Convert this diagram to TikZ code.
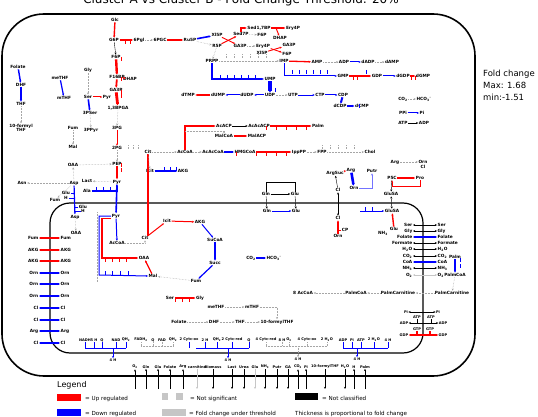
\documentclass[tikz,border=0pt]{standalone}
\usepackage{fontspec}
\setmainfont{DejaVu Sans}
\usetikzlibrary{arrows.meta}

\tikzset{
  met/.style={font=\fontsize{4.3}{4.6}\selectfont\bfseries,inner sep=0.5pt},
  cof/.style={font=\fontsize{3.6}{3.8}\selectfont\bfseries,inner sep=0.3pt},
  upreg/.style={draw=red,line width=1.2pt},
  dnreg/.style={draw=blue,line width=1.2pt},
  nsig/.style={draw=gray!70,densely dotted,line width=0.5pt},
  nclass/.style={draw=black,line width=0.4pt},
  lowfc/.style={draw=gray!45,line width=0.9pt},
  lgtext/.style={anchor=base west,font=\fontsize{5.6}{6.5}\selectfont,inner sep=0pt},
}

\begin{document}
\begin{tikzpicture}[x=1pt,y=-1pt,>={Stealth[length=2.2pt,width=2pt]}]
\useasboundingbox (0,0) rectangle (538,417);

% title and range
\node[anchor=base,font=\fontsize{12}{14}\selectfont,inner sep=0pt] (title) at (241,4) {Cluster A vs Cluster B - Fold Change Threshold: 20\%};
\node[anchor=north west,align=left,font=\fontsize{8.5}{12}\selectfont,inner sep=0pt] (range) at (483,70) {Fold change\\Max: 1.68\\min:-1.51};

% cell and mitochondrion
\draw[line width=1.6pt,rounded corners=42pt] (2,14) rectangle (475,376);
\draw[line width=1.2pt,rounded corners=20pt] (50,203) rectangle (423,353);

% cytosol
\foreach \n/\x/\y/\t in {glc/115/20/Glc, g6p/114/40/G6P, pgl/139/40/6Pgl, pgc/160/40/6PGC, ru5p/190/40/Ru5P,
  xu5p/217/35/Xl5P, r5p/217/46/R5P, s7p/241/34/Sed7P, gapa/240/46/GA3P, s17bp/259/28/{Sed1,7BP},
  e4pa/293/28/Ery4P, dhapa/280/38/DHAP, f6pa/262/35/F6P, e4pb/263/46/Ery4P, xu5pb/262/53/Xl5P,
  gapb/289/45/GA3P, f6pb/287/54/F6P,
  f6p/116/57/F6P, f16bp/117/77/F16BP, dhap/130/79/DHAP, gap/116/90/GA3P, bpg/118/108/{1,3BPGA},
  pgthree/117/128/3PG, pgtwo/117/148/2PG, pep/117/164/PEP, pyr/117/182/Pyr,
  folate/18/67/Folate, dhf/21/85/DHF, thf/21/104/THF, methf/60/78/meTHF, mthf/64/98/mTHF,
  gly/88/70/Gly, ser/88/97/Ser, pyrb/107/97/Pyr, pser/90/113/3PSer, ppyr/91/130/3PPyr,
  fum/73/128/Fum, mal/73/147/Mal,
  prpp/212/61/PRPP, imp/284/61/IMP, amp/317/62/AMP, adp/344/62/ADP, dadp/368/62/dADP, damp/392/62/dAMP,
  gmp/343/76/GMP, gdp/377/76/GDP, dgdp/403/76/dGDP, dgmp/423/76/dGMP, ump/270/79/UMP,
  dtmp/188/95/dTMP, dump/218/95/dUMP, dudp/247/95/dUDP, udp/270/95/UDP, utp/293/95/UTP,
  ctp/320/95/CTP, cdp/343/95/CDP, dcdp/340/106/dCDP, dcmp/362/106/dCMP,
  co2a/403/99/CO\textsubscript{2}, hco3a/424/99/HCO\textsubscript{3}\textsuperscript{-}, ppi/403/113/PPi,
  pia/422/113/Pi, atpa/403/123/ATP, adpa/424/123/ADP,
  acacp/224/126/AcACP, acacacp/259/126/AcAcACP, palm/318/126/Palm, malcoa/224/136/MalCoA, malacp/257/136/MalACP,
  cit/148/152/Cit, accoa/185/152/AcCoA, acaccoa/213/152/AcAcCoA, hmgcoa/245/152/HMGCoA,
  ipp/299/152/IppPP, fpp/322/152/FPP, chol/370/152/Chol, icit/150/171/Icit, akg/183/171/AKG,
  oaa/73/165/OAA, asn/22/183/Asn, asp/74/183/Asp, lact/87/181/Lact, ala/87/191/Ala,
  gluca/66/193/Glu, hca/66/198/H, fumc/55/200/Fum,
  glnc/266/194/Gln, gluc/295/194/Glu, argsuc/335/173/ArgSuc, arg/351/170/Arg, orn/354/188/Orn,
  putr/372/171/Putr, clc/338/190/Cl, argb/395/162/Arg, ornb/423/162/Orn, clb/423/167/Cl,
  pfivec/392/178/P5C, pro/420/178/Pro, glusa/391/194/GluSA,
  palmc/455/257/Palm, palmcoa/455/275/PalmCoA, pcarc/452/293/PalmCarnitine}
  \node[met] (\n) at (\x,\y) {\t};
\node[met,align=center] (fthf) at (21,128) {10-formyl\\THF};

% mitochondrion
\foreach \n/\x/\y/\t in {glum/83/207/Glu, hm/83/211/H, aspm/75/217/Asp, oaam/76/233/OAA,
  pyrm/116/216/Pyr, accoam/117/243/AcCoA, citm/145/238/Cit, oaamb/144/258/OAA, malm/153/276/Mal,
  icitm/167/221/Icit, akgm/200/222/AKG, sucoa/215/240/SuCoA, succ/215/263/Succ, fumm/196/281/Fum,
  glnm/267/211/Gln, glumb/296/211/Glu, co2m/251/258/CO\textsubscript{2}, hco3m/274/258/HCO\textsubscript{3}\textsuperscript{-},
  clm/338/218/Cl, cp/345/230/CP, ornm/338/236/Orn, glusam/392/211/GluSA, glumc/394/229/Glu,
  nhm/383/233/NH\textsubscript{3},
  acceight/303/293/8 AcCoA, palmcoam/356/293/PalmCoA, pcarm/398/293/PalmCarnitine,
  serm/170/298/Ser, glym/200/298/Gly, methfm/216/307/meTHF, mthfm/252/307/mTHF,
  folm/179/322/Folate, dhfm/214/322/DHF, thfm/240/322/THF, fthfm/277/322/10-formylTHF}
  \node[met] (\n) at (\x,\y) {\t};

% up regulated
\foreach \a/\b/\w in {glc/g6p/1.4, g6p/pgl/1.8, pgc/ru5p/1.3, f6p/f16bp/2.4, f16bp/gap/1.8, f16bp/dhap/1.0,
  gap/bpg/2.8, pgthree/pgtwo/0.9, pep/pyr/1.6, xu5p/gapa/0.9, r5p/s7p/0.9, s17bp/e4pa/1.6,
  e4pb/f6pb/0.9, xu5pb/gapb/0.9, imp/amp/1.3, gmp/gdp/1.3, dgdp/dgmp/1.8, dump/dtmp/1.2,
  acacacp/palm/2.2, malcoa/malacp/1.8, hmgcoa/ipp/2.4, ser/pyrb/1.0, citm/icitm/1.0, icitm/akgm/1.0,
  malm/oaamb/1.2, argsuc/arg/1.0, serm/glym/2.2, pfivec/pro/1.2, glumc/glusam/1.4}
  \draw[upreg,->,line width=\w pt] (\a) -- (\b);
\draw[upreg,->,line width=1.6pt] (s7p.north) |- (s17bp.west);
\draw[upreg,->,line width=1.0pt] (276,28) -- (dhapa);
\draw[upreg,->,line width=2.4pt] (accoa.north) |- (acacp.west);
\draw[upreg,line width=2.4pt] (cit.south) -- (cit.south |- citm.north);
\draw[upreg,->,line width=1.4pt] (pyrm.south west) -| (102,258) -- (oaamb.west);
\draw[upreg,->,line width=1.0pt] (pro.south) |- (392,186) -- (pfivec.south);
\draw[upreg,->,line width=1.2pt] (ornm) -- (clm);
\draw[upreg,line width=1.0pt] (cp.west) -- (cp.west -| ornm.north);
\foreach \x/\y in {125/40,130/40,121/57,121/77,121/90,121/94,121/163,121/168,266/126,276/126,286/126,296/126,306/126,
  236/152,256/152,266/152,276/152,286/152,105/258,112/258,119/258,126/258,353/76,357/76,411/76,415/76,175/298,182/298,189/298}
  \draw[upreg,line width=0.8pt] (\x,\y) -- ++(0,4);

% down regulated
\foreach \a/\b/\w in {ru5p/xu5p/1.6, folate/dhf/1.4, dhf/thf/1.4, methf/mthf/1.2, ser/pser/1.6, adp/dadp/1.0,
  gdp/dgdp/1.0, ump/udp/3.2, udp/dudp/1.0, dudp/dump/1.0, utp/ctp/0.8, ctp/cdp/1.0, cdp/dcdp/2.0,
  dcdp/dcmp/2.6, ppi/pia/1.0, acaccoa/hmgcoa/1.4, icit/akg/1.2, pyr/pyrm/1.6, asp/aspm/1.2,
  pyrm/accoam/1.0, akgm/sucoa/1.0, sucoa/succ/1.6, succ/fumm/1.2, glnm/glumb/1.0, co2m/hco3m/1.2,
  arg/orn/2.6, palmc/palmcoa/1.8}
  \draw[dnreg,->,line width=\w pt] (\a) -- (\b);
\draw[dnreg,->,line width=1.2pt] (prpp.south) |- (ump.west);
\draw[dnreg,->,line width=1.0pt] (imp.south) |- (gmp.west);
\draw[dnreg,->,line width=1.4pt] (ala.east) -| (pyr.south);
\draw[dnreg,->,line width=1.0pt] (pyrm.west) -| (99,275) -- (malm.west);
\draw[blue!55,->,line width=0.8pt] (orn.east) -| (putr.south);
\coordinate (oatin) at (360,211);
\draw[dnreg,->,line width=1.0pt] (oatin) -- (glusam);
\foreach \n in {gluca,hca,glum,hm} \draw[dnreg,line width=0.8pt] (\n) -- (asp.center |- \n);
\foreach \x/\y in {220/75,227/75,234/75,241/75,248/75,255/75,292/70,299/70,306/70,313/70,320/70,327/70,
  96/187,103/187,110/187,105/271,112/271,120/271,128/271,164/167,170/167,176/167,
  275/88,359/104,366/70,460/258,460/264,365/207,372/207}
  \draw[dnreg,line width=0.8pt] (\x,\y) -- ++(0,4);

% not significant / not classified
\foreach \a/\b in {pgl/pgc, ru5p/r5p, bpg/pgthree, pgtwo/pep, s7p/f6pa, gapa/e4pb, prpp/imp, amp/adp,
  dadp/damp, udp/utp, co2a/hco3a, accoa/acaccoa, ipp/fpp, fpp/chol, cit/accoa, cit/icit, oaa/pep,
  asp/oaa, asp/asn, pyr/lact, gly/ser, pser/ppyr, thf/fthf, fum/mal, r5p/prpp, asp/fumc,
  fumm/malm, palmcoa/pcarc, pcarc/pcarm, pcarm/palmcoam, palmcoam/acceight, methfm/mthfm,
  folm/dhfm, dhfm/thfm, thfm/fthfm, argb/ornb, aspm/oaam}
  \draw[nsig,->] (\a) -- (\b);
\draw[nsig,->] (accoam.east) -| (citm.south);
\draw[nsig,->] (mthfm.east) -| (fthfm.north);
\draw[nsig,->] (accoa.north |- 0,131) -| (malcoa.north);
\draw[nsig] (97,212) -- (97,282);
\foreach \a/\b in {g6p/f6p, acacp/acacacp, atpa/adpa, glnc/gluc, pfivec/glusa, glnc/glnm, gluc/glumb, clc/argsuc}
  \draw[nclass,->] (\a) -- (\b);
\draw[nclass] (glnc.north) -- (glnc.north |- 0,182) -- (gluc.north |- 0,182) -- (gluc.north);
\draw[nclass,<->] (clc) -- (clm);
\draw[nclass,<->] (glusa) -- (glusam);
\foreach \x/\y in {226/58,234/58,242/58,250/58,258/58,266/58,128/149,133/149,138/149,322/149,330/149,338/149,346/149,354/149}
  \draw[nsig] (\x,\y) -- ++(0,-4);

% transport, left
\foreach \y/\l/\s in {238/Fum/upreg, 250/AKG/upreg, 261/AKG/upreg, 273/Orn/dnreg, 284/Orn/dnreg, 296/Orn/dnreg,
  308/Cl/dnreg, 320/Cl/dnreg, 331/Arg/dnreg, 343/Cl/dnreg} {
  \node[met,anchor=east] (lt\y) at (39,\y) {\l};
  \node[met,anchor=west] (rt\y) at (60,\y) {\l};
  \draw[\s,<->] (lt\y) -- (rt\y);
}
% transport, right
\foreach \y/\l/\s in {225/Ser/nclass, 231/Gly/nclass, 237/Folate/dnreg, 243/Formate/nclass, 249/H\textsubscript{2}O/nclass,
  256/CO\textsubscript{2}/nclass, 262/CoA/dnreg, 268/NH\textsubscript{3}/nclass, 275/O\textsubscript{2}/lowfc} {
  \node[met,anchor=east] (tl\y) at (413,\y) {\l};
  \node[met,anchor=west] (tr\y) at (437,\y) {\l};
  \draw[\s,<->] (tl\y) -- (tr\y);
}
\foreach \n/\x/\y/\t in {pil/406/312/Pi, pir/438/312/Pi, atpl/417/317/ATP, atpr/431/317/ATP, adpl/404/323/ADP,
  adpr/443/323/ADP, gtpl/417/329/GTP, gtpr/430/329/GTP, gdpl/404/335/GDP, gdpr/443/335/GDP}
  \node[cof] (\n) at (\x,\y) {\t};
\draw[nclass,<->] (pil) -- (pir);
\draw[nclass,<->] (adpl) -- (adpr);
\draw[upreg,<->,line width=2.2pt] (gdpl) -- (gdpr);
\foreach \n in {gtpl,gtpr} \draw[upreg,line width=1.4pt] (\n.south) -- (\n.south |- gdpl.center);
\foreach \n in {atpl,atpr} \draw[nclass] (\n.south) -- (\n.south |- adpl.center);

% electron transport chain
\foreach \n/\x/\t in {nadh/85/NADH, fiveh/94/5 H, qa/102/Q, nad/116/NAD, qha/126/QH\textsubscript{2},
  fadh/141/FADH\textsubscript{2}, qb/153/Q, fad/162/FAD, qhb/173/QH\textsubscript{2},
  cytox/189/2 Cytc-ox, twoh/205/2 H, qhc/217/QH\textsubscript{2}, cytred/232/2 Cytc-red, qc/249/Q,
  cytredb/266/4 Cytc-red, eighth/282/8 H, otwo/289/O\textsubscript{2}, cytoxb/307/4 Cytc-ox,
  htwoo/327/2 H\textsubscript{2}O, adpe/343/ADP, pie/352/Pi, atpe/361/ATP, htwoob/374/2 H\textsubscript{2}O, fourh/388/4 H}
  \node[cof] (\n) at (\x,340) {\t};
\foreach \n/\x/\y in {hfa/113/360, hfb/228/360, hfc/298/359, hfd/357/359}
  \node[cof] (\n) at (\x,\y) {4 H};
\coordinate (cI) at (113,348);
\coordinate (cIII) at (228,348);
\coordinate (cIV) at (298,346);
\coordinate (cV) at (357,348);
\foreach \n in {nadh,fiveh,qa,nad,qha} \draw[dnreg,line width=0.9pt] (\n.south) -- (\n.south |- cI);
\draw[dnreg,line width=0.9pt] (nadh.south |- cI) -- (qha.south |- cI);
\draw[dnreg,->,line width=0.9pt] (cI) -- (hfa);
\foreach \n in {cytox,twoh,qhc,cytred,qc} \draw[dnreg,line width=0.9pt] (\n.south) -- (\n.south |- cIII);
\draw[dnreg,line width=0.9pt] (196,348) -- (qc.south |- cIII);
\draw[dnreg,->,line width=0.9pt] (cIII) -- (hfb);
\foreach \n in {adpe,pie,atpe,htwoob,fourh} \draw[dnreg,line width=0.9pt] (\n.south) -- (\n.south |- cV);
\draw[dnreg,line width=0.9pt] (adpe.south |- cV) -- (fourh.south |- cV);
\draw[dnreg,->,line width=0.9pt] (cV) -- (hfd);
\foreach \n in {fadh,qb,fad,qhb} \draw[nsig] (\n.south) -- (\n.south |- 0,346);
\draw[nsig] (fadh.south |- 0,346) -- (qhb.south |- 0,346);
\foreach \n in {cytredb,eighth,otwo,cytoxb,htwoo} \draw[nsig] (\n.south) -- (\n.south |- cIV);
\draw[nsig] (cytredb.south |- cIV) -- (htwoo.south |- cIV);
\draw[nsig,->] (cIV) -- (hfc);

% exchange with the medium
\foreach \x/\t/\s [count=\i] in {135/O\textsubscript{2}/nclass, 146/Gln/nclass, 158/Glu/nclass, 170/Folate/nclass,
  183/Arg/nclass, 298/CO\textsubscript{2}/nclass, 306/Pi/nclass, 354/H/nclass, 365/Palm/nclass} {
  \node[cof] (exin\i) at (\x,367) {\t};
  \coordinate (eyin\i) at (\x,389);
  \draw[\s,->] (eyin\i) -- (exin\i);
}
\foreach \x/\t/\s [count=\i] in {197/carnitine/lowfc, 213/Biomass/nclass, 232/Last/nclass, 244/Urea/nclass,
  255/Glu/lowfc, 265/NH\textsubscript{3}/nclass, 277/Putr/nclass, 288/GA/nclass, 325/10-formylTHF/nclass,
  345/H\textsubscript{2}O/nclass} {
  \node[cof] (exout\i) at (\x,367) {\t};
  \coordinate (eyout\i) at (\x,389);
  \draw[\s,->] (exout\i) -- (eyout\i);
}

% legend
\node[anchor=base west,font=\fontsize{8}{9}\selectfont,inner sep=0pt] (legend) at (57,387) {Legend};
\fill[red] (57,394) rectangle (81,401);
\node[lgtext] (lgup) at (85,400) {= Up regulated};
\fill[blue] (57,409) rectangle (81,416);
\node[lgtext] (lgdn) at (85,415) {= Down regulated};
\fill[gray!45] (162,393) rectangle (168,400);
\fill[gray!45] (176,393) rectangle (183,400);
\node[lgtext] (lgns) at (190,400) {= Not significant};
\fill[gray!45] (162,409) rectangle (186,416);
\node[lgtext] (lgthr) at (189,415) {= Fold change under threshold};
\fill[black] (295,393) rectangle (318,400);
\node[lgtext] (lgnc) at (322,400) {= Not classified};
\node[lgtext] (lgthick) at (295,415) {Thickness is proportional to fold change};
\end{tikzpicture}
\end{document}
